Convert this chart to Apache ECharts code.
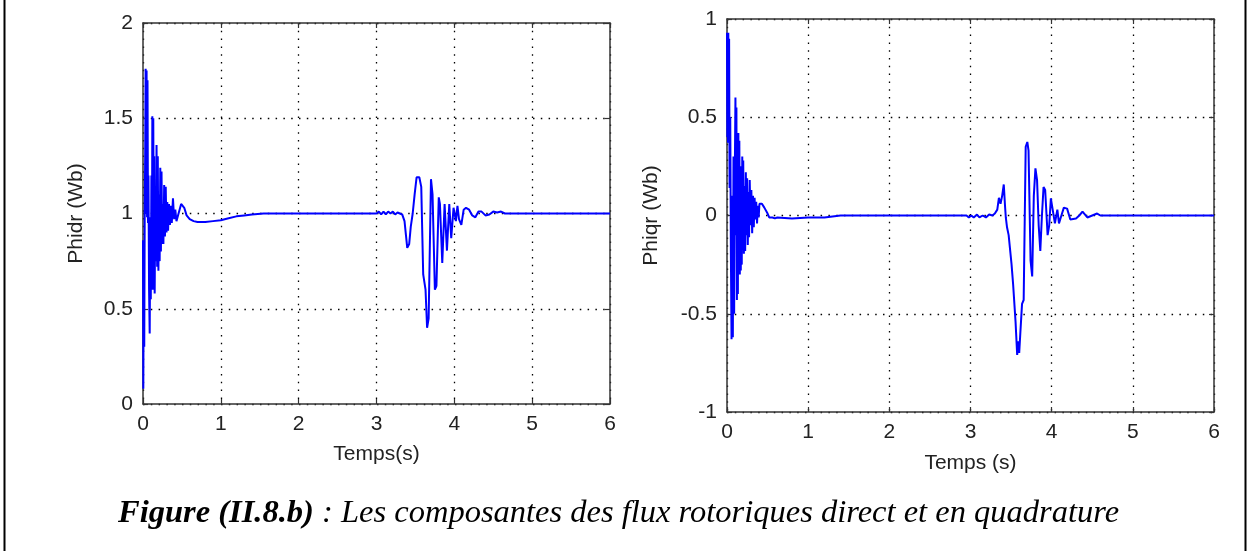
<!DOCTYPE html>
<html>
<head>
<meta charset="utf-8">
<script src="https://cdn.jsdelivr.net/npm/echarts@6/dist/echarts.min.js"></script>
<style>
html,body{margin:0;padding:0;background:#fff;}
#chart{width:1251px;height:551px;}
</style>
</head>
<body>
<div id="chart"></div>
<script>
// ---- Left panel: Phidr (Wb) vs time (s) ----
const tL = [
 0.000,0.004,0.010,0.016,0.022,0.028,0.034,0.040,0.046,0.052,0.058,0.064,0.070,0.078,0.086,0.094,
 0.100,0.108,0.114,0.120,0.126,0.132,0.138,0.144,0.150,0.158,0.166,0.174,0.182,0.190,0.198,0.206,
 0.214,0.222,0.230,0.238,0.246,0.254,0.262,0.272,0.282,0.292,0.302,0.312,0.322,0.334,0.346,0.358,
 0.370,0.385,0.400,0.415,0.430,0.450,0.470,0.490,0.510,0.530,0.560,0.600,0.650,0.700,0.800,0.900,
 1.000,1.100,1.200,1.300,1.400,1.550,2.000,2.500,3.000,3.030,3.060,3.090,3.120,3.150,3.180,3.210,
 3.240,3.270,3.300,3.330,3.360,3.380,3.395,3.420,3.440,3.465,3.490,3.515,3.530,3.550,3.575,3.600,
 3.630,3.650,3.670,3.700,3.720,3.750,3.770,3.800,3.815,3.845,3.875,3.905,3.935,3.960,3.990,4.020,
 4.040,4.060,4.090,4.120,4.150,4.190,4.230,4.270,4.310,4.350,4.400,4.450,4.500,4.550,4.600,4.650,
 5.000,6.000
];
const phidr = [
 0.86,0.08,0.80,0.30,1.00,1.30,1.76,1.00,1.75,0.98,1.70,0.95,1.20,0.60,0.37,0.98,
 0.55,1.20,0.70,1.51,0.60,1.50,0.80,1.30,0.58,1.10,0.75,1.36,0.72,1.30,0.70,1.10,
 0.75,1.24,0.80,1.22,0.84,1.05,0.84,1.15,0.88,1.14,0.90,1.06,0.91,1.05,0.94,1.04,
 0.95,1.08,0.97,1.02,0.96,0.97,1.02,1.05,1.05,1.03,0.99,0.97,0.96,0.955,0.955,0.96,
 0.965,0.975,0.985,0.99,0.995,1.00,1.00,1.00,1.00,1.01,0.995,1.01,0.995,1.01,1.00,1.01,
 0.995,1.005,1.00,0.995,0.96,0.88,0.82,0.84,0.93,1.00,1.10,1.19,1.18,1.19,1.14,0.68,
 0.60,0.40,0.45,1.18,1.10,0.60,0.62,1.085,1.05,0.74,1.05,0.805,1.05,0.87,1.03,0.96,
 1.04,0.97,0.94,1.02,1.03,1.02,0.99,0.98,1.01,1.01,0.99,0.995,1.01,1.005,1.01,1.00,
 1.00,1.00
];

// ---- Right panel: Phiqr (Wb) vs time (s) ----
const tR = [
 0.000,0.004,0.008,0.012,0.016,0.020,0.026,0.032,0.040,0.048,0.056,0.064,0.072,0.080,0.088,0.096,
 0.104,0.110,0.116,0.122,0.128,0.134,0.140,0.146,0.152,0.158,0.164,0.170,0.176,0.182,0.188,0.194,
 0.200,0.208,0.216,0.224,0.232,0.240,0.248,0.256,0.264,0.272,0.280,0.290,0.300,0.310,0.320,0.330,
 0.340,0.350,0.360,0.370,0.380,0.390,0.400,0.415,0.430,0.445,0.460,0.480,0.500,0.520,0.540,0.560,
 0.590,0.620,0.800,1.000,1.200,1.400,2.000,2.950,2.980,3.010,3.040,3.080,3.110,3.150,3.190,3.230,
 3.270,3.300,3.330,3.350,3.370,3.390,3.410,3.425,3.435,3.450,3.470,3.490,3.505,3.525,3.555,3.575,
 3.590,3.600,3.615,3.635,3.655,3.680,3.700,3.715,3.740,3.760,3.780,3.800,3.820,3.840,3.860,3.880,
 3.900,3.920,3.950,3.970,3.990,4.010,4.040,4.070,4.090,4.120,4.150,4.190,4.230,4.300,4.340,4.380,
 4.440,4.500,4.560,4.600,5.000,6.000
];
const phiqr = [
 0.93,0.40,0.92,0.37,0.93,0.42,0.90,0.14,0.50,-0.20,-0.63,0.10,-0.62,0.30,-0.50,0.20,
 0.60,-0.10,0.55,-0.43,0.20,-0.40,0.42,-0.20,0.38,-0.30,0.25,-0.28,0.20,-0.25,0.30,-0.10,
 0.28,-0.195,0.15,-0.18,0.22,-0.10,0.19,-0.15,0.12,-0.11,0.18,-0.05,0.13,-0.09,0.10,-0.06,
 0.09,-0.02,0.07,-0.04,0.05,-0.01,0.06,0.07,0.06,0.05,0.04,0.03,0.01,-0.01,-0.01,-0.01,
 -0.015,-0.01,-0.015,-0.01,-0.01,0.00,0.00,0.00,-0.01,0.00,-0.01,0.005,-0.01,0.00,-0.01,0.005,
 0.00,0.01,0.03,0.09,0.06,0.10,0.158,0.05,-0.01,-0.06,-0.10,-0.10,-0.245,-0.35,-0.54,-0.71,
 -0.64,-0.70,-0.59,-0.45,-0.43,0.35,0.374,0.33,-0.23,-0.31,0.10,0.24,0.18,-0.05,-0.18,0.00,
 0.145,0.13,-0.10,-0.05,0.087,0.08,-0.04,0.03,-0.04,0.00,0.04,0.035,-0.02,-0.015,0.00,0.02,
 -0.01,0.00,0.01,0.00,0.00,0.00
];

const xTicks = {min: 0, max: 6, interval: 1};
const yTicksL = {min: 0, max: 2, interval: 0.5};
const yTicksR = {min: -1, max: 1, interval: 0.5};

const chart = echarts.init(document.getElementById('chart'), null, {renderer: 'canvas'});

const FONT = 'Liberation Sans, Arial, sans-serif';
const boxLine = {show: true, onZero: false, lineStyle: {color: '#333', width: 1.5}};
const tick = {show: true, inside: true, length: 5, lineStyle: {color: '#333', width: 1.2}};
const grid = {show: true, lineStyle: {color: '#000', width: 1.3, type: [1.5, 6.3]}};
const lbl = {fontSize: 21, color: '#222', fontFamily: FONT};

function mainX(gi, name, gap) {
  return {gridIndex: gi, type: 'value', min: xTicks.min, max: xTicks.max, interval: xTicks.interval,
    position: 'bottom', axisLine: boxLine, axisTick: tick, splitLine: grid,
    axisLabel: Object.assign({margin: 10}, lbl),
    name: name, nameLocation: 'middle', nameGap: gap, nameTextStyle: lbl};
}
function mirrorX(gi) {
  return {gridIndex: gi, type: 'value', min: xTicks.min, max: xTicks.max, interval: xTicks.interval,
    position: 'top', axisLine: boxLine, axisTick: tick, splitLine: {show: false}, axisLabel: {show: false}};
}
function mainY(gi, r, name, gap) {
  return {gridIndex: gi, type: 'value', min: r.min, max: r.max, interval: r.interval,
    position: 'left', axisLine: boxLine, axisTick: tick, splitLine: grid,
    axisLabel: Object.assign({margin: 10}, lbl),
    name: name, nameLocation: 'middle', nameGap: gap, nameRotate: 90, nameTextStyle: lbl};
}
function mirrorY(gi, r) {
  return {gridIndex: gi, type: 'value', min: r.min, max: r.max, interval: r.interval,
    position: 'right', axisLine: boxLine, axisTick: tick, splitLine: {show: false}, axisLabel: {show: false}};
}

const dataL = tL.map((t, i) => [t, phidr[i]]);
const dataR = tR.map((t, i) => [t, phiqr[i]]);

const serifI = {fontFamily: 'Liberation Serif, Times New Roman, serif', fontStyle: 'italic', fontSize: 32.5, color: '#000'};

chart.setOption({
  animation: false,
  backgroundColor: '#fff',
  title: {
    left: 113, top: 492,
    text: '{b|Figure (II.8.b)}{i| : Les composantes des flux rotoriques direct et en quadrature}',
    textStyle: {rich: {
      b: Object.assign({fontWeight: 'bold'}, serifI),
      i: Object.assign({fontWeight: 'normal'}, serifI)
    }}
  },
  grid: [
    {left: 143, top: 23, width: 467, height: 381},
    {left: 727, top: 19, width: 487, height: 393}
  ],
  xAxis: [mainX(0, 'Temps(s)', 40), mirrorX(0), mainX(1, 'Temps (s)', 41), mirrorX(1)],
  yAxis: [mainY(0, yTicksL, 'Phidr (Wb)', 56), mirrorY(0, yTicksL),
          mainY(1, yTicksR, 'Phiqr (Wb)', 65), mirrorY(1, yTicksR)],
  series: [
    {type: 'line', xAxisIndex: 0, yAxisIndex: 0, data: dataL, showSymbol: false, symbol: 'none',
     lineStyle: {color: '#0000ff', width: 2}, z: 3},
    {type: 'line', xAxisIndex: 2, yAxisIndex: 2, data: dataR, showSymbol: false, symbol: 'none',
     lineStyle: {color: '#0000ff', width: 2}, z: 3}
  ],
  graphic: [
    {type: 'line', shape: {x1: 4.5, y1: 0, x2: 4.5, y2: 551}, style: {stroke: '#000', lineWidth: 2}},
    {type: 'line', shape: {x1: 1245.5, y1: 0, x2: 1245.5, y2: 551}, style: {stroke: '#000', lineWidth: 2}}
  ]
});
</script>
</body>
</html>
